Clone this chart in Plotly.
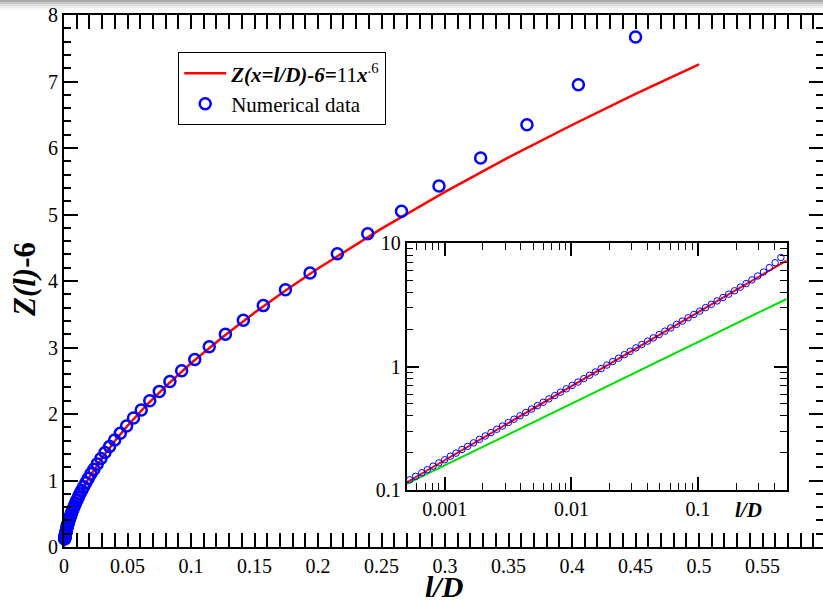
import plotly.graph_objects as go

# ---------------- data ----------------
X_DATA = [0.5, 0.45, 0.405, 0.3645, 0.32805, 0.29525, 0.26572, 0.23915, 0.21523, 0.19371,
          0.17434, 0.15691, 0.14121, 0.12709, 0.11438, 0.10295, 0.09265, 0.08339, 0.07505, 0.06754,
          0.06079, 0.05471, 0.04924, 0.04431, 0.03988, 0.03589, 0.03230, 0.02907, 0.02617, 0.02355,
          0.02119, 0.01907, 0.01717, 0.01545, 0.01391, 0.01252, 0.01126, 0.01014, 0.00912, 0.00821,
          0.00739, 0.00665, 0.00599, 0.00539, 0.00485, 0.00436, 0.00393, 0.00353, 0.00318, 0.00286,
          0.00258, 0.00232, 0.00209, 0.00188, 0.00169, 0.00152, 0.00137, 0.00123, 0.00111, 0.00100,
          0.00090, 0.00081, 0.00073, 0.00066, 0.00059, 0.00053]
Y_DATA = [8.6, 7.67, 6.95, 6.35, 5.85, 5.43, 5.05, 4.71, 4.41, 4.12,
          3.87, 3.63, 3.41, 3.20, 3.01, 2.82, 2.65, 2.49, 2.34, 2.20,
          2.06, 1.94, 1.82, 1.71, 1.61, 1.51, 1.42, 1.33, 1.25, 1.17,
          1.10, 1.03, 0.965, 0.906, 0.851, 0.799, 0.750, 0.704, 0.661, 0.621,
          0.583, 0.548, 0.514, 0.483, 0.453, 0.425, 0.399, 0.375, 0.352, 0.330,
          0.311, 0.292, 0.274, 0.257, 0.241, 0.226, 0.213, 0.199, 0.188, 0.176,
          0.166, 0.156, 0.146, 0.138, 0.129, 0.121]

FIT_X = [0, 0.0005, 0.001, 0.002, 0.003, 0.005, 0.0075, 0.01, 0.015, 0.02, 0.03, 0.04, 0.05,
         0.065, 0.08, 0.1, 0.125, 0.15, 0.175, 0.2, 0.25, 0.3, 0.35, 0.4, 0.45, 0.5]
FIT_Y = [0, 0.115, 0.174, 0.264, 0.337, 0.458, 0.584, 0.694, 0.885, 1.052, 1.342, 1.595, 1.823,
         2.134, 2.416, 2.763, 3.159, 3.524, 3.865, 4.188, 4.787, 5.340, 5.860, 6.346, 6.814, 7.257]

GREEN_X = [0.0005, 0.5]
GREEN_Y = [0.112, 3.54]

MAIN_X_TICKS = [0, 0.05, 0.1, 0.15, 0.2, 0.25, 0.3, 0.35, 0.4, 0.45, 0.5, 0.55]
MAIN_X_LABELS = ["0", "0.05", "0.1", "0.15", "0.2", "0.25", "0.3", "0.35", "0.4", "0.45", "0.5", "0.55"]
MAIN_Y_TICKS = [0, 1, 2, 3, 4, 5, 6, 7, 8]
MAIN_Y_LABELS = ["0", "1", "2", "3", "4", "5", "6", "7", "8"]
INSET_X_TICKS = [0.001, 0.01, 0.1]
INSET_X_LABELS = ["0.001", "0.01", "0.1"]
INSET_Y_TICKS = [0.1, 1, 10]
INSET_Y_LABELS = ["0.1", "1", "10"]

LEG_FIT = "<b><i>Z(x=l/D)-6=</i></b>11<b><i>x</i></b><sup>.6</sup>"
LEG_DATA = "Numerical data"

# ---------------- layout geometry ----------------
W, H = 823, 602
ML, MR, MT, MB = 64, 0, 15, 55
PW, PH = W - ML - MR, H - MT - MB


def px(x):
    return (x - ML) / PW


def py(y):
    return (H - MB - y) / PH


FONT = "Liberation Serif, Times New Roman, serif"
RED = "#ff0000"
BLUE = "#0000ff"
GREEN = "#00e000"

fig = go.Figure()

# main panel
fig.add_trace(go.Scatter(x=FIT_X, y=FIT_Y, mode="lines", name=LEG_FIT,
                         line=dict(color=RED, width=2.5), xaxis="x", yaxis="y"))
fig.add_trace(go.Scatter(x=X_DATA, y=Y_DATA, mode="markers", name=LEG_DATA,
                         marker=dict(symbol="circle-open", size=11, color=BLUE,
                                     line=dict(width=2.5, color=BLUE)),
                         cliponaxis=False, xaxis="x", yaxis="y"))
# invisible trace to carry right-side ticks
fig.add_trace(go.Scatter(x=GREEN_X, y=GREEN_Y, mode="lines", opacity=0, showlegend=False,
                         hoverinfo="skip", xaxis="x", yaxis="y3"))

# inset panel
fig.add_trace(go.Scatter(x=GREEN_X, y=GREEN_Y, mode="lines", showlegend=False,
                         line=dict(color=GREEN, width=2), xaxis="x2", yaxis="y2"))
fig.add_trace(go.Scatter(x=FIT_X[1:], y=FIT_Y[1:], mode="lines", showlegend=False,
                         line=dict(color=RED, width=2), xaxis="x2", yaxis="y2"))
fig.add_trace(go.Scatter(x=X_DATA, y=Y_DATA, mode="markers", showlegend=False,
                         marker=dict(symbol="circle-open", size=6.5, color=BLUE,
                                     line=dict(width=1, color=BLUE)),
                         cliponaxis=False, xaxis="x2", yaxis="y2"))

axis_common = dict(showline=True, linecolor="black", ticks="inside", tickcolor="black",
                   showgrid=False, zeroline=False, tickfont=dict(family=FONT, size=20, color="black"))

minor_dec = [m * 10 ** e for e in range(-4, 2) for m in range(2, 10)]

fig.update_layout(
    width=W, height=H,
    margin=dict(l=ML, r=MR, t=MT, b=MB, pad=0),
    paper_bgcolor="white", plot_bgcolor="white",
    font=dict(family=FONT, color="black"),
    showlegend=True,
    legend=dict(x=px(178), y=py(52), xanchor="left", yanchor="top",
                bgcolor="white", bordercolor="black", borderwidth=1.2,
                itemwidth=42,
                font=dict(family=FONT, size=21, color="black"), tracegroupgap=0),
    xaxis=dict(axis_common, domain=[0, 1], range=[0, 0.5976], linewidth=2, mirror="allticks",
               tickmode="array", tickvals=MAIN_X_TICKS, ticktext=MAIN_X_LABELS,
               ticklen=14, tickwidth=2,
               minor=dict(ticks="inside", ticklen=7, tickwidth=1.5, dtick=0.01, tick0=0,
                          tickcolor="black", showgrid=False),
               anchor="y"),
    yaxis=dict(axis_common, domain=[0, 1], range=[0, 8], linewidth=2, mirror=False,
               tickmode="array", tickvals=MAIN_Y_TICKS, ticktext=MAIN_Y_LABELS,
               ticklen=14, tickwidth=2,
               minor=dict(ticks="inside", ticklen=7, tickwidth=1.5, dtick=0.2, tick0=0,
                          tickcolor="black", showgrid=False),
               anchor="x"),
    yaxis3=dict(axis_common, overlaying="y", side="right", anchor="x", range=[0, 8],
                showline=False, showticklabels=False,
                tickmode="array", tickvals=MAIN_Y_TICKS, ticklen=14, tickwidth=2,
                minor=dict(ticks="inside", ticklen=7, tickwidth=1.5, dtick=0.2, tick0=0,
                           tickcolor="black", showgrid=False)),
    xaxis2=dict(axis_common, type="log", domain=[px(406.5), px(786.7)],
                range=[-3.30103, -0.30103], linewidth=1.5, mirror="allticks",
                tickmode="array", tickvals=INSET_X_TICKS, ticktext=INSET_X_LABELS,
                ticklen=13, tickwidth=1.5,
                minor=dict(ticks="inside", ticklen=7, tickwidth=1, tickvals=minor_dec,
                           tickcolor="black", showgrid=False),
                anchor="y2"),
    yaxis2=dict(axis_common, type="log", domain=[py(490), py(243.3)],
                range=[-1, 1], linewidth=1.5, mirror="allticks",
                tickmode="array", tickvals=INSET_Y_TICKS, ticktext=INSET_Y_LABELS,
                ticklen=13, tickwidth=1.5,
                minor=dict(ticks="inside", ticklen=7, tickwidth=1, tickvals=minor_dec,
                           tickcolor="black", showgrid=False),
                anchor="x2"),
)

annotations = [
    dict(text="<b><i>l/D</i></b>", x=px(444), y=py(586), xref="paper", yref="paper",
         xanchor="center", yanchor="middle", showarrow=False,
         font=dict(family=FONT, size=30, color="black")),
    dict(text="<b><i>Z(l)</i>-6</b>", x=px(24), y=py(280), xref="paper", yref="paper",
         xanchor="center", yanchor="middle", showarrow=False, textangle=-90,
         font=dict(family=FONT, size=31, color="black")),
    dict(text="<b><i>l/D</i></b>", x=px(748), y=py(510), xref="paper", yref="paper",
         xanchor="center", yanchor="middle", showarrow=False,
         font=dict(family=FONT, size=21, color="black")),
]
fig.update_layout(annotations=annotations)

# window-shadow gradient at the very top
shade = ["#a9a9a9", "#c6c6c6", "#dddddd", "#ededed", "#f8f8f8"]
shapes = []
for i, c in enumerate(shade):
    shapes.append(dict(type="rect", xref="paper", yref="paper", x0=px(0), x1=px(W),
                       y0=py(2 * i + 2), y1=py(2 * i), fillcolor=c, line=dict(width=0),
                       layer="below"))
fig.update_layout(shapes=shapes)

fig.write_html("out.html", config={"displayModeBar": False})
